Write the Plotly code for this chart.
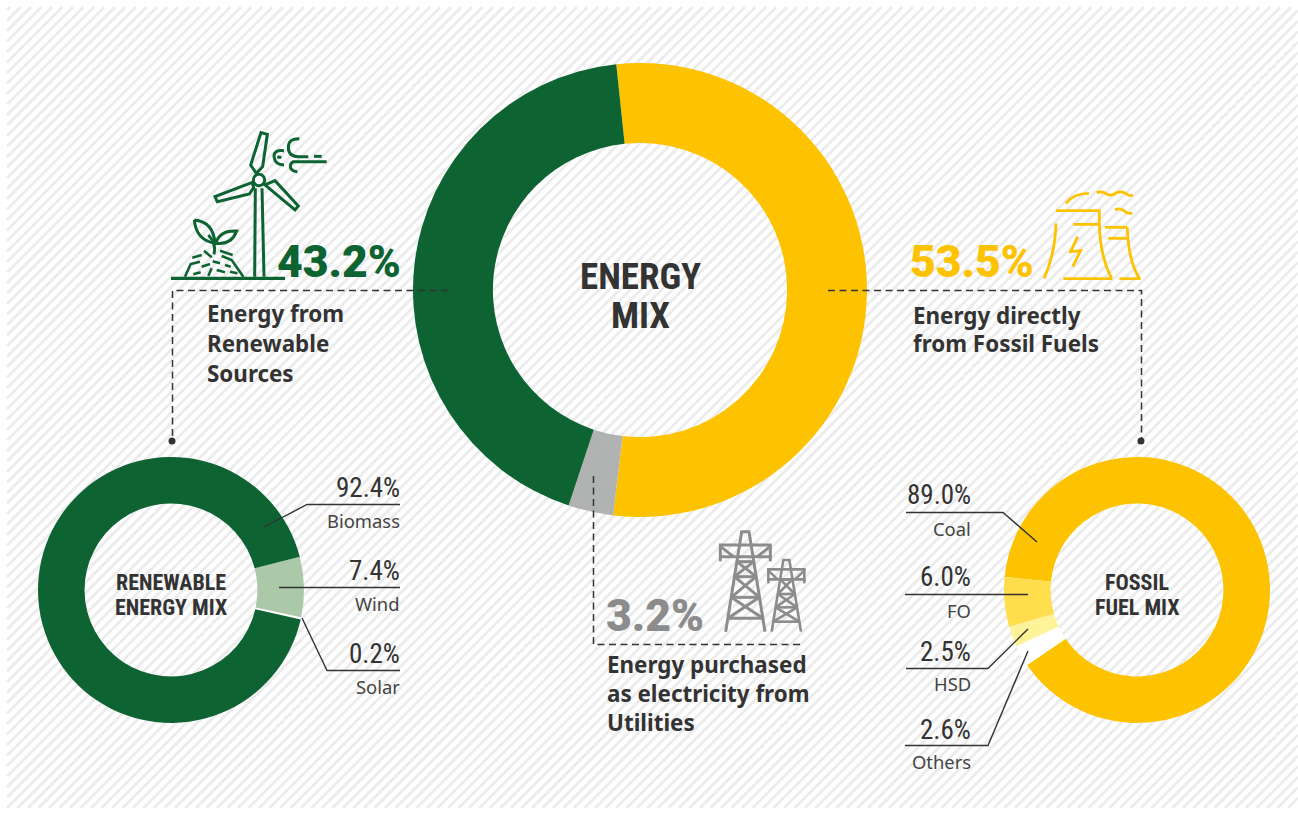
import plotly.graph_objects as go

W, H = 1298, 814

# ---- data ----
main_labels = ["Energy directly from Fossil Fuels", "Energy purchased as electricity from Utilities", "Energy from Renewable Sources"]
main_values = [53.5, 3.2, 43.2]
main_colors = ["#fec300", "#b1b3b2", "#0d6331"]

ren_labels = ["Wind", "Solar", "Biomass"]
ren_values = [7.4, 0.2, 92.4]
ren_colors = ["#abc8a9", "#ffffff", "#0d6331"]

fos_labels = ["Coal", "Others", "HSD", "FO"]
fos_values = [89.0, 2.6, 2.5, 6.0]
fos_colors = ["#fec300", "#ffffff", "#fff399", "#ffdd4c"]

GREEN, YELLOW, GREY, DARK = "#0d6331", "#fec300", "#8c8c8c", "#333333"
NUM_FONT = "Roboto"
NARROW = "Roboto Condensed, Liberation Sans Narrow, Roboto"
TXT_FONT = "Noto Sans"

def px(x): return x / W
def py(y): return 1 - y / H

fig = go.Figure()

def donut(labels, values, colors, cx, cy, R, hole, rot, lw=0):
    fig.add_trace(go.Pie(labels=labels, values=values, sort=False, direction="clockwise",
                         rotation=rot, hole=hole, textinfo="none", hoverinfo="skip",
                         marker=dict(colors=colors, line=dict(width=lw, color="#ffffff")),
                         domain=dict(x=[px(cx - R), px(cx + R)], y=[py(cy + R), py(cy - R)]),
                         showlegend=False))

donut(main_labels, main_values, main_colors, 640, 290, 227, 0.648, -6)
donut(ren_labels, ren_values, ren_colors, 171, 590, 133, 0.65, 75.5, [0, 1.5, 0])
donut(fos_labels, fos_values, fos_colors, 1137, 590, 133, 0.65, 275.6)

shapes = []

# hatch background
X0, Y0, X1, Y1 = 7, 7, 1298, 808
hatch = []
c = X0 + Y0 + 3
STEP = 10.5
while c < X1 + Y1:
    xa = min(c - Y0, X1); ya = c - xa
    yb = min(c - X0, Y1); xb = c - yb
    hatch.append(f"M{px(xa):.5f},{py(ya):.5f}L{px(xb):.5f},{py(yb):.5f}")
    c += STEP
shapes.append(dict(type="path", xref="paper", yref="paper", layer="below", path="".join(hatch),
                   line=dict(color="#ececec", width=3)))

def path(d, color, width=2.5, dash=None):
    line = dict(color=color, width=width)
    if dash:
        line["dash"] = dash
    shapes.append(dict(type="path", xref="paper", yref="paper", layer="above", path=d, line=line))

def poly(pts, color, width=2.5, dash=None, ox=0, oy=0, s=1.0, close=False):
    d = ""
    for i, (x, y) in enumerate(pts):
        d += ("M" if i == 0 else "L") + f"{px(ox + x * s):.5f},{py(oy + y * s):.5f}"
    if close:
        d += "Z"
    path(d, color, width, dash)

def curve(cmds, color, width=2.5, ox=0, oy=0, s=1.0):
    d = ""
    for c_ in cmds:
        vals = c_[1:]
        coords = []
        for i in range(0, len(vals), 2):
            coords.append(f"{px(ox + vals[i] * s):.5f},{py(oy + vals[i + 1] * s):.5f}")
        d += c_[0] + " ".join(coords)
    path(d, color, width)

def dot(x, y, r, color, fill=None, width=0):
    shapes.append(dict(type="circle", xref="paper", yref="paper", layer="above",
                       x0=px(x - r), x1=px(x + r), y0=py(y + r), y1=py(y - r),
                       fillcolor=fill or color, line=dict(color=color, width=width)))

# dashed leaders
LD = "#333333"
DASH = "7px,4.5px"
poly([(448, 290.5), (172.5, 290.5), (172.5, 441)], LD, 1.5, DASH)
dot(172, 441, 3.5, "#333333")
poly([(828, 290.5), (1141.5, 290.5), (1141.5, 441)], LD, 1.5, DASH)
dot(1141, 441, 3.5, "#333333")
poly([(593.5, 476), (593.5, 644.5), (803, 644.5)], LD, 1.5, DASH)

# solid leaders
LS = "#333333"
for pts in [
    [(264, 527), (307, 504.5), (400, 504.5)],
    [(279, 587.5), (400, 587.5)],
    [(302, 618), (327, 670.5), (400, 670.5)],
    [(906, 512.5), (1003, 512.5), (1037, 542)],
    [(905, 594.5), (1028, 594.5)],
    [(906, 668.5), (988, 668.5), (1028, 629)],
    [(905, 745.5), (988, 745.5), (1028, 651)],
]:
    poly(pts, LS, 1.4)

# ---- wind turbine and plant icon ----
o = dict(ox=160, oy=120, s=1 / 3)
SW = 3
poly([(33, 475), (375, 475)], GREEN, 3.2, **o)
poly([(303, 38), (322, 43), (308, 140), (289, 160), (272, 135)], GREEN, SW, close=True, **o)
poly([(277, 187), (165, 230), (172, 245), (268, 222), (281, 203)], GREEN, SW, close=True, **o)
poly([(315, 195), (345, 182), (415, 258), (405, 270)], GREEN, SW, close=True, **o)
dot(160 + 297 / 3, 120 + 180 / 3, 5.7, GREEN, fill="#ffffff", width=SW)
poly([(286, 205), (284, 470)], GREEN, SW, **o)
poly([(306, 205), (312, 470)], GREEN, SW, **o)
curve([("M", 418, 56), ("Q", 385, 55, 385, 82), ("Q", 385, 110, 415, 110), ("L", 445, 110)], GREEN, SW, **o)
poly([(462, 109), (485, 109)], GREEN, SW, **o)
curve([("M", 372, 92), ("Q", 342, 88, 342, 110), ("Q", 345, 135, 372, 135)], GREEN, SW, **o)
poly([(352, 110), (364, 113)], GREEN, SW, **o)
curve([("M", 500, 125), ("L", 400, 125), ("Q", 388, 132, 392, 145), ("Q", 398, 155, 412, 155)], GREEN, SW, **o)
curve([("M", 103, 300), ("Q", 160, 305, 165, 370), ("Q", 108, 360, 103, 300)], GREEN, SW, **o)
curve([("M", 168, 368), ("Q", 180, 330, 230, 333), ("Q", 215, 375, 168, 370)], GREEN, SW, **o)
curve([("M", 145, 345), ("Q", 170, 370, 162, 403)], GREEN, SW, **o)
for seg in [
    [(97, 413), (125, 405)], [(132, 392), (155, 412)], [(180, 392), (218, 405)],
    [(125, 440), (150, 432)], [(158, 424), (180, 430)], [(195, 435), (212, 440)],
    [(100, 463), (122, 457)], [(145, 468), (155, 445)], [(170, 450), (195, 457)],
    [(210, 455), (232, 460)], [(75, 470), (92, 432), (120, 425)],
    [(185, 408), (215, 420), (250, 470)],
]:
    poly(seg, GREEN, 2.6, **o)

# ---- power plant icon ----
o = dict(ox=900, oy=180, s=1 / 3)
SY = 2.8
curve([("M", 498, 70), ("Q", 520, 40, 567, 40)], YELLOW, SY, **o)
curve([("M", 590, 38), ("Q", 605, 32, 620, 42), ("Q", 635, 50, 650, 38), ("Q", 665, 32, 680, 42), ("Q", 690, 50, 698, 44)], YELLOW, SY, **o)
curve([("M", 645, 90), ("Q", 658, 82, 672, 92), ("Q", 685, 104, 697, 98)], YELLOW, SY, **o)
poly([(468, 92), (598, 92), (598, 130)], YELLOW, SY, **o)
curve([("M", 598, 130), ("Q", 600, 230, 635, 295)], YELLOW, SY, **o)
poly([(490, 296), (637, 296)], YELLOW, SY, **o)
poly([(520, 133), (597, 133)], YELLOW, SY, **o)
curve([("M", 468, 130), ("Q", 465, 225, 432, 295)], YELLOW, SY, **o)
poly([(533, 170), (512, 215), (542, 212), (518, 260)], YELLOW, SY, **o)
poly([(615, 142), (682, 142)], YELLOW, SY, **o)
curve([("M", 682, 142), ("Q", 684, 240, 718, 295)], YELLOW, SY, **o)
poly([(658, 296), (722, 296)], YELLOW, SY, **o)
poly([(625, 175), (681, 175)], YELLOW, SY, **o)

# ---- pylons icon ----
o = dict(ox=590, oy=520, s=1 / 3)
def pylon(cx, top_w, base_w, ytop, y1, y2, arm, yb, ladder, lw):
    l = lambda y: cx - top_w - (base_w - top_w) * (y - ytop) / (yb - ytop)
    r = lambda y: cx + top_w + (base_w - top_w) * (y - ytop) / (yb - ytop)
    poly([(l(yb), yb), (l(ytop), ytop), (r(ytop), ytop), (r(yb), yb)], GREY, lw, **o)
    poly([(cx - arm, y1), (cx + arm, y1)], GREY, lw, **o)
    poly([(cx - arm, y2), (cx + arm, y2)], GREY, lw, **o)
    for sgn in (-1, 1):
        poly([(cx + sgn * (arm - 4), y1), (cx + sgn * (arm - 4), y1 + (y2 - y1) * 1.4)], GREY, lw, **o)
        poly([(cx + sgn * (arm - 4), y1 + 4), (cx + sgn * (arm * 0.45), y2)], GREY, lw, **o)
    for ya, yb_ in ladder:
        poly([(l(ya), ya), (r(ya), ya)], GREY, lw, **o)
        poly([(l(ya), ya), (r(yb_), yb_)], GREY, lw, **o)
        poly([(r(ya), ya), (l(yb_), yb_)], GREY, lw, **o)
    poly([(l(ladder[-1][1]), ladder[-1][1]), (r(ladder[-1][1]), ladder[-1][1])], GREY, lw, **o)

pylon(466, 11, 59, 35, 75, 110, 79, 335, [(125, 170), (170, 232), (232, 295)], 3.0)
pylon(589, 9, 44, 120, 148, 178, 58, 335, [(178, 222), (222, 262), (262, 305)], 2.6)

# ---- text ----
ann = []
def text(x, y, s, size, color, family=TXT_FONT, anchor="left", bold=False, weight=None):
    f = dict(family=family, size=size, color=color)
    if weight:
        f["weight"] = weight
    elif bold:
        f["weight"] = 700
    ann.append(dict(x=px(x), y=py(y), xref="paper", yref="paper", text=s, showarrow=False,
                    xanchor=anchor, yanchor="middle", align=anchor, font=f, borderpad=0))

text(276, 262, f"{main_values[2]}%", 44.5, GREEN, NUM_FONT, weight=900)
text(909, 262, f"{main_values[0]}%", 44.5, YELLOW, NUM_FONT, weight=900)
text(605, 616, f"{main_values[1]}%", 44.5, GREY, NUM_FONT, weight=900)

text(640, 277, "ENERGY", 37, DARK, NARROW, "center", True)
text(640, 315, "MIX", 37, DARK, NARROW, "center", True)

for y, s in zip([313, 343, 373], ["Energy from", "Renewable", "Sources"]):
    text(206, y, s, 22.4, DARK, bold=True)
for y, s in zip([315, 344], ["Energy directly", "from Fossil Fuels"]):
    text(912, y, s, 22.4, DARK, bold=True)
for y, s in zip([664, 693, 722], ["Energy purchased", "as electricity from", "Utilities"]):
    text(606, y, s, 22.4, DARK, bold=True)

for y, s in zip([582, 607], ["RENEWABLE", "ENERGY MIX"]):
    text(171, y, s, 22, DARK, NARROW, "center", True)
for y, s in zip([582, 607], ["FOSSIL", "FUEL MIX"]):
    text(1137, y, s, 22, DARK, NARROW, "center", True)

for (yv, yl), lab in zip([(488, 520), (571, 603), (654, 686)], ["Biomass", "Wind", "Solar"]):
    v = ren_values[ren_labels.index(lab)]
    text(401, yv, f"{v}%", 27, DARK, NARROW, "right")
    text(400.5, yl, lab, 18.4, "#444444", TXT_FONT, "right")
for (yv, yl), lab in zip([(495, 528), (577, 610), (652, 683), (730, 761)], ["Coal", "FO", "HSD", "Others"]):
    v = fos_values[fos_labels.index(lab)]
    text(972, yv, f"{v:.1f}%", 27, DARK, NARROW, "right")
    text(972, yl, lab, 18.4, "#444444", TXT_FONT, "right")

fig.update_layout(width=W, height=H, margin=dict(l=0, r=0, t=0, b=0, pad=0, autoexpand=False),
                  paper_bgcolor="#ffffff", plot_bgcolor="rgba(0,0,0,0)",
                  shapes=shapes, annotations=ann, showlegend=False)
fig.write_html("out.html", config=dict(displayModeBar=False),
               post_script="document.body.style.margin='0';document.body.style.overflow='hidden';")
